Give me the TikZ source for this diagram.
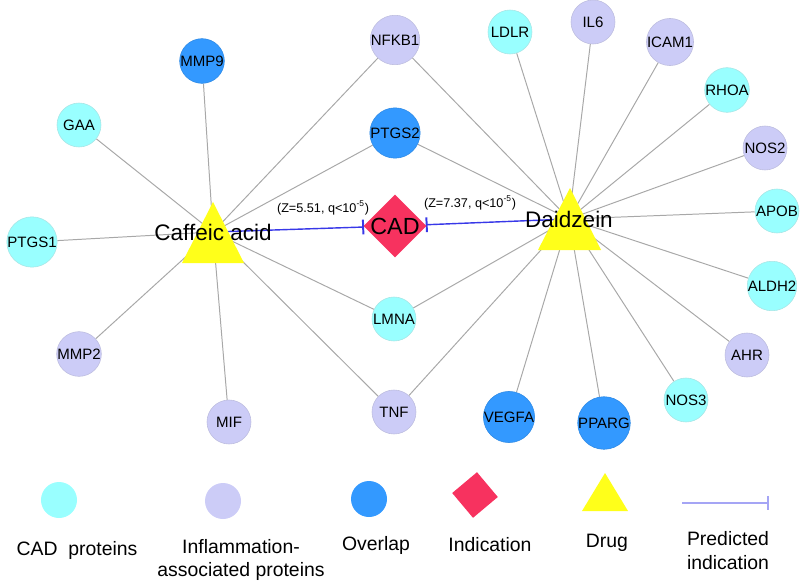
\documentclass[tikz,border=0pt]{standalone}
\usepackage{fontspec}
\setmainfont{Liberation Sans}
\usepackage{tikz}
\usetikzlibrary{shapes,arrows.meta,calc}
\pgfdeclarelayer{background}
\pgfsetlayers{background,main}
\definecolor{cadcol}{HTML}{99FFFF}
\definecolor{inflcol}{HTML}{CCCCF7}
\definecolor{ovlcol}{HTML}{3399FF}
\definecolor{indcol}{HTML}{F7325F}
\definecolor{drugcol}{HTML}{FFFF1A}
\definecolor{linkcol}{HTML}{A8A8A8}
\definecolor{predcol}{HTML}{3838E8}

\begin{document}
\begin{tikzpicture}[x=0.025cm,y=-0.025cm,
  prot/.style={circle,minimum size=1.1cm,inner sep=0pt,font=\fontsize{10.7}{12}\selectfont},
  cadp/.style={prot,fill=cadcol,draw=cadcol!75!gray!80},
  inflp/.style={prot,fill=inflcol,draw=inflcol!80!gray},
  ovlp/.style={prot,fill=ovlcol,draw=ovlcol!90!black},
  indic/.style={diamond,aspect=1,minimum size=1.58cm,inner sep=0pt,fill=indcol},
  druglab/.style={font=\fontsize{16}{18}\selectfont,inner sep=0pt},
  link/.style={draw=linkcol,line width=0.7pt},
  pred/.style={draw=predcol,line width=1pt,-{Bar[width=10.5pt,line width=1.4pt]}},
  zlab/.style={font=\fontsize{9}{10}\selectfont,inner sep=0pt},
  legtxt/.style={font=\fontsize{13.8}{17}\selectfont,align=center,inner sep=0pt},
  legdot/.style={circle,minimum size=0.9cm,inner sep=0pt}]

\useasboundingbox (0,0) rectangle (800,583);

% proteins
\node [inflp] (nfkb1) at (395,40) {NFKB1};
\node [cadp] (ldlr) at (510,32) {LDLR};
\node [inflp] (il6) at (593,22) {IL6};
\node [inflp] (icam1) at (670,42) {ICAM1};
\node [cadp] (rhoa) at (727,90) {RHOA};
\node [inflp] (nos2) at (765,148) {NOS2};
\node [cadp] (apob) at (777,211) {APOB};
\node [cadp] (aldh2) at (772,286) {ALDH2};
\node [inflp] (ahr) at (747,355) {AHR};
\node [cadp] (nos3) at (686,400) {NOS3};
\node [ovlp] (pparg) at (604,423) {PPARG};
\node [ovlp] (vegfa) at (509,417) {VEGFA};
\node [inflp] (tnf) at (394,412) {TNF};
\node [cadp] (lmna) at (394,319) {LMNA};
\node [ovlp] (ptgs2) at (395,133) {PTGS2};
\node [ovlp] (mmp9) at (202,61) {MMP9};
\node [cadp] (gaa) at (79,125) {GAA};
\node [cadp] (ptgs1) at (32,242) {PTGS1};
\node [inflp] (mmp2) at (79,354) {MMP2};
\node [inflp] (mif) at (229,422) {MIF};

% drugs and indication
\fill [drugcol] (182,263) -- (213,202) -- (244,263) -- cycle;
\node [druglab] (caffeic) at (213,232) {Caffeic acid};
\fill [drugcol] (538,250) -- (570,188) -- (601,250) -- cycle;
\node [druglab] (daidzein) at (569,219) {Daidzein};
\node [indic,label={[font=\fontsize{16.6}{18}\selectfont]center:CAD}] (cad) at (395,226) {};

\begin{pgfonlayer}{background}
\foreach \p in {mmp9,gaa,ptgs1,mmp2,mif,tnf,lmna,ptgs2,nfkb1}
  \draw [link] (caffeic.center) -- (\p);
\foreach \p in {nfkb1,ptgs2,lmna,tnf,vegfa,pparg,nos3,ahr,aldh2,apob,nos2,rhoa,icam1,il6,ldlr}
  \draw [link] (daidzein.center) -- (\p);
\draw [pred] (caffeic.center) -- (cad);
\draw [pred] (daidzein.center) -- (cad);
\end{pgfonlayer}

\node [zlab] (zcaf) at (323,208) {(Z=5.51, q<10\textsuperscript{-5})};
\node [zlab] (zdai) at (470,203) {(Z=7.37, q<10\textsuperscript{-5})};

% legend
\node [legdot,fill=cadcol] (legcad) at (59,500) {};
\node [legdot,fill=inflcol] (leginfl) at (223,501) {};
\node [legdot,fill=ovlcol] (legovl) at (369,499) {};
\node [diamond,aspect=1,minimum size=1.15cm,inner sep=0pt,fill=indcol,rotate=-5] (legind) at (475,495) {};
\fill [drugcol] (582,511) -- (605,473) -- (628,511) -- cycle;
\coordinate (legA) at (682,503);
\coordinate (legB) at (769,503);
\draw [draw=predcol!45,line width=0.8pt,-{Bar[width=10pt,line width=1.2pt]}] (legA) -- (legB);

\node [legtxt] (tcad) at (77,550) {CAD\ \ proteins};
\node [legtxt] (tinfl) at (241,560) {Inflammation-\\associated proteins};
\node [legtxt] (tovl) at (376,545) {Overlap};
\node [legtxt] (tind) at (490,545) {Indication};
\node [legtxt] (tdrug) at (607,543) {Drug};
\node [legtxt] (tpred) at (728,551) {Predicted\\indication};

\end{tikzpicture}
\end{document}
